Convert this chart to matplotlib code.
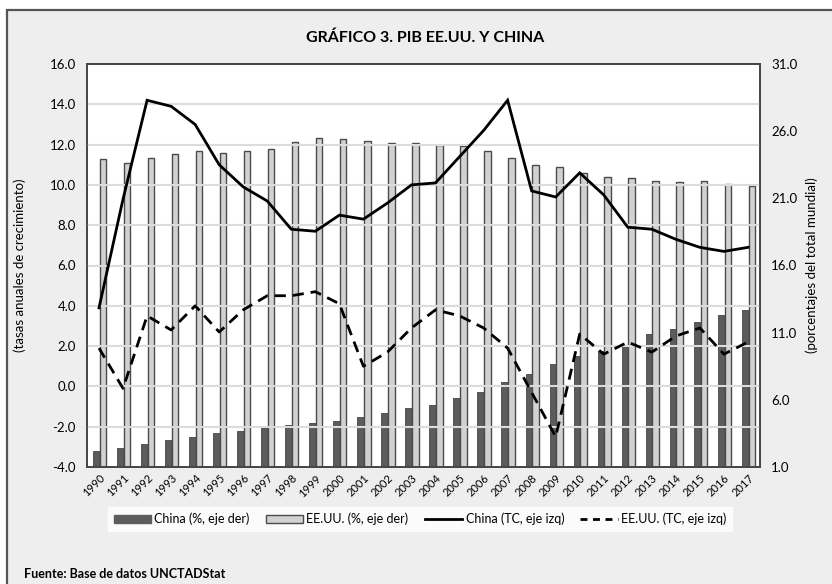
import numpy as np
import matplotlib
matplotlib.use("Agg")
import matplotlib.pyplot as plt
from matplotlib.patches import Patch, Rectangle
from matplotlib.lines import Line2D

plt.rcParams['font.family'] = ['Lato', 'DejaVu Sans']

# ---- data ----
years = list(range(1990, 2018))
china_tc = [3.9, 9.3, 14.2, 13.9, 13.0, 11.0, 9.9, 9.2, 7.8, 7.7, 8.5, 8.3, 9.1, 10.0,
            10.1, 11.4, 12.7, 14.2, 9.7, 9.4, 10.6, 9.5, 7.9, 7.8, 7.3, 6.9, 6.7, 6.9]
eeuu_tc = [1.9, -0.1, 3.5, 2.8, 4.0, 2.7, 3.8, 4.5, 4.5, 4.7, 4.1, 1.0, 1.7, 2.9,
           3.8, 3.5, 2.9, 1.9, -0.3, -2.5, 2.6, 1.6, 2.2, 1.7, 2.5, 2.9, 1.6, 2.2]
china_pct = [2.2, 2.4, 2.7, 3.0, 3.25, 3.5, 3.7, 3.9, 4.1, 4.3, 4.45, 4.75, 5.05, 5.4,
             5.65, 6.1, 6.6, 7.3, 7.9, 8.7, 9.25, 9.6, 10.1, 10.9, 11.3, 11.8, 12.3, 12.7]
eeuu_pct = [23.9, 23.6, 24.0, 24.3, 24.5, 24.4, 24.5, 24.7, 25.2, 25.5, 25.4, 25.3, 25.1, 25.1,
            25.0, 24.9, 24.5, 24.0, 23.5, 23.3, 22.9, 22.6, 22.5, 22.3, 22.2, 22.3, 22.1, 21.9]

left_ticks = np.arange(-4, 17, 2)
right_ticks = np.arange(1, 32, 5)

DARK = "#5c5c5c"
LIGHT = "#d2d2d2"
EDGE = "#4a4a4a"
BG = "#eeeeee"

fig = plt.figure(figsize=(8.32, 5.84), dpi=100)
fig.patch.set_facecolor("white")
# outer frame of the Excel chart
fig.add_artist(Rectangle((7 / 832, -0.05), 1.0, 1 - 10 / 584 + 0.05, transform=fig.transFigure,
                         facecolor=BG, edgecolor="#555555", lw=1.6, zorder=0))

rect = [87 / 832, 1 - 467 / 584, (760 - 87) / 832, (467 - 64) / 584]
axb = fig.add_axes(rect)             # bars, right scale
ax = fig.add_axes(rect, sharex=axb)  # lines, left scale (on top)
ax.patch.set_visible(False)

x = np.arange(len(years))
w = 0.27
axb.bar(x - 0.12, china_pct, w, color=DARK, edgecolor="#444444", lw=0.6, zorder=2)
axb.bar(x + 0.16, eeuu_pct, w, color=LIGHT, edgecolor=EDGE, lw=1.0, zorder=2)
axb.set_ylim(1, 31)
axb.set_yticks(right_ticks)
axb.set_yticklabels(["%.1f" % t for t in right_ticks])
axb.yaxis.tick_right()
axb.set_facecolor("white")
axb.set_xlim(-0.5, len(years) - 0.5)

ax.set_ylim(-4, 16)
ax.set_yticks(left_ticks)
ax.set_yticklabels(["%.1f" % t for t in left_ticks])
for t in left_ticks[1:-1]:
    ax.axhline(t, color="#dcdcdc", lw=1.5, zorder=1)
ax.plot(x, china_tc, color="black", lw=2.0, zorder=4, solid_joinstyle="miter")
ax.plot(x, eeuu_tc, color="black", lw=2.0, ls=(0, (4, 2.5)), zorder=4)
ax.set_xticks(x)
ax.set_xticklabels([str(y) for y in years], rotation=45, ha="right", rotation_mode="anchor", fontsize=8)
axb.tick_params(axis="x", labelbottom=False)

for a in (ax, axb):
    a.tick_params(length=0, labelsize=9.5, pad=8)
    for s in a.spines.values():
        s.set_color("#444444")
        s.set_linewidth(1.2)
ax.tick_params(axis="x", pad=4, labelsize=8)

fig.text(425 / 832, 1 - 38 / 584, "GRÁFICO 3. PIB EE.UU. Y CHINA", ha="center", va="center",
         fontsize=11.5, fontweight="bold")
fig.text(20 / 832, 1 - 265 / 584, "(tasas anuales de crecimiento)", rotation=90,
         ha="center", va="center", fontsize=9.5)
fig.text(812 / 832, 1 - 265 / 584, "(porcentajes del total mundial)", rotation=90,
         ha="center", va="center", fontsize=9.5)

handles = [Patch(facecolor=DARK, edgecolor=DARK),
           Patch(facecolor=LIGHT, edgecolor=EDGE, lw=1.0),
           Line2D([], [], color="black", lw=2.0),
           Line2D([], [], color="black", lw=2.0, ls=(0, (2.5, 2)))]
labels = ["China (%, eje der)", "EE.UU. (%, eje der)", "China (TC, eje izq)", "EE.UU. (TC, eje izq)"]
leg = fig.legend(handles, labels, loc="center", bbox_to_anchor=(420 / 832, 1 - 519 / 584), ncol=4,
                 fontsize=9, frameon=True, fancybox=False, edgecolor="white",
                 handlelength=3, handletextpad=0.25, columnspacing=1.3, borderpad=0.45)
leg.get_frame().set_facecolor("white")

fig.text(24 / 832, 1 - 574 / 584, "Fuente: Base de datos UNCTADStat", ha="left", va="center",
         fontsize=9, fontweight="bold")

fig.savefig("out.png", dpi=100, facecolor=fig.get_facecolor())
